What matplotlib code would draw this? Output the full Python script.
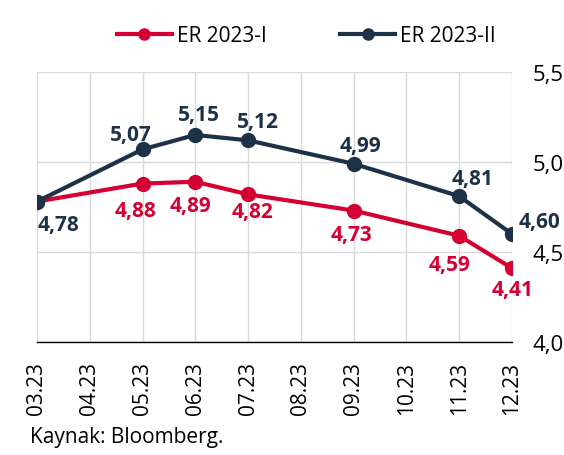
import numpy as np
import matplotlib.pyplot as plt

plt.rcParams['font.family'] = ['Open Sans', 'DejaVu Sans']

months = ['03.23', '04.23', '05.23', '06.23', '07.23', '08.23', '09.23', '10.23', '11.23', '12.23']
er_1 = [4.78, None, 4.88, 4.89, 4.82, None, 4.73, None, 4.59, 4.41]
er_2 = [4.78, None, 5.07, 5.15, 5.12, None, 4.99, None, 4.81, 4.60]

red = '#D50032'
navy = '#1D3246'

# label offsets in pixels (dx, dy from the point to the text baseline)
off_1 = {2: (-7, -32), 3: (-5, -29), 4: (4, -23), 6: (-2, -29), 8: (-10, -34), 9: (1, -27)}
off_2 = {0: (1, -28), 2: (-12, 9), 3: (4, 15), 4: (10, 13), 6: (7, 13), 8: (13, 12), 9: (7, 7)}

fig = plt.figure(figsize=(5.64, 4.56), dpi=100)
ax = fig.add_axes([0.0656, 0.248, 0.842, 0.592])

x = np.arange(len(months))
for vals, col, lab in [(er_1, red, 'ER 2023-I'), (er_2, navy, 'ER 2023-II')]:
    xs = [i for i, v in zip(x, vals) if v is not None]
    ys = [v for v in vals if v is not None]
    ax.plot(xs, ys, color=col, lw=3, marker='o', ms=10, label=lab, zorder=3)

def fmt(v):
    return f'{v:.2f}'.replace('.', ',')

for vals, offs, col in [(er_1, off_1, red), (er_2, off_2, navy)]:
    for i, (dx, dy) in offs.items():
        ha = 'left' if i in (0,) or (col == navy and i == 9) else 'center'
        ax.annotate(fmt(vals[i]), (i, vals[i]), xytext=(dx, dy), textcoords='offset pixels',
                    ha=ha, va='baseline', color=col, fontsize=15, fontweight='bold',
                    annotation_clip=False, zorder=4)

ax.set_xlim(0, len(months) - 1)
ax.set_ylim(4.0, 5.5)
ax.set_xticks(x)
ax.set_xticklabels(months, rotation=90, fontsize=15)
ax.set_yticks([4.0, 4.5, 5.0, 5.5])
ax.set_yticklabels(['4,0', '4,5', '5,0', '5,5'], fontsize=16)
ax.yaxis.tick_right()
ax.tick_params(axis='both', length=0)
ax.tick_params(axis='y', pad=15)
ax.tick_params(axis='x', pad=14)

ax.grid(True, color='#d9d9d9', lw=1)
ax.set_axisbelow(True)
for s in ['left', 'right', 'top']:
    ax.spines[s].set_visible(False)
ax.spines['bottom'].set_color('black')
ax.spines['bottom'].set_linewidth(1)

fig.legend(*ax.get_legend_handles_labels(), loc='center', bbox_to_anchor=(0.5435, 0.919),
           ncol=2, frameon=False, fontsize=15, handlelength=2.65, columnspacing=3.5,
           handletextpad=0.25, borderpad=0, markerscale=0.8)

fig.text(0.053, 0.04, 'Kaynak: Bloomberg.', fontsize=15, va='center')

fig.savefig('out.png', dpi=100)
